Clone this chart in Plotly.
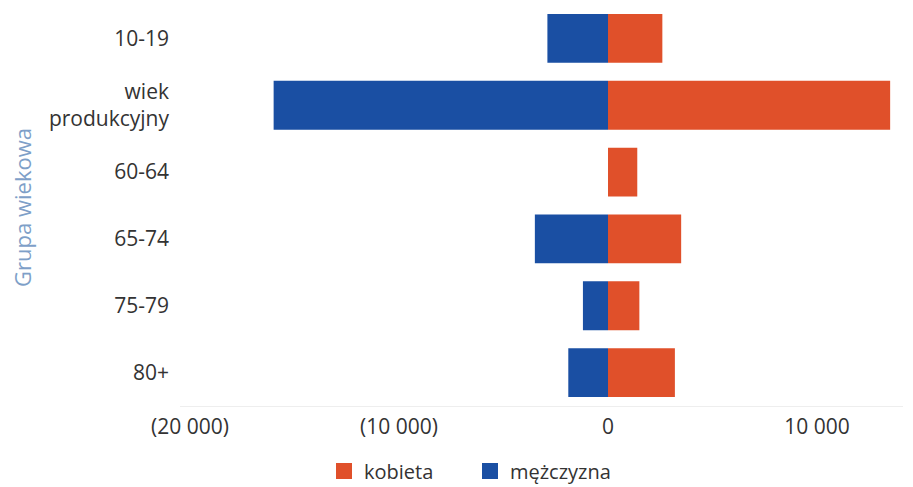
import plotly.graph_objects as go

categories = ["10-19", "wiek<br>produkcyjny", "60-64", "65-74", "75-79", "80+"]
kobieta = [2600, 13500, 1400, 3500, 1500, 3200]
mezczyzna = [2900, 16000, 0, 3500, 1200, 1900]
tick_vals = [-20000, -10000, 0, 10000]
tick_text = ["(20 000)", "(10 000)", "0", "10 000"]
series_names = ["kobieta", "mężczyzna"]

FEMALE = "#e0502a"
MALE = "#1a4fa3"

fig = go.Figure()
fig.add_trace(go.Bar(
    y=categories, x=kobieta, orientation="h", name=series_names[0],
    marker=dict(color=FEMALE, line=dict(width=0)), showlegend=False,
))
fig.add_trace(go.Bar(
    y=categories, x=[-v for v in mezczyzna], orientation="h", name=series_names[1],
    marker=dict(color=MALE, line=dict(width=0)), showlegend=False,
))
# legend entries with larger square swatches
for nm, col in zip(series_names, [FEMALE, MALE]):
    fig.add_trace(go.Scatter(
        x=[None], y=[None], mode="markers", name=nm,
        marker=dict(symbol="square", size=18, color=col),
    ))

W, H = 913, 487
ML, MR, MT, MB = 180, 10, 5, 81
PW = W - ML - MR
PH = H - MT - MB

fig.update_layout(
    width=W, height=H,
    barmode="relative",
    bargap=0.27,
    paper_bgcolor="white", plot_bgcolor="white",
    margin=dict(l=ML, r=MR, t=MT, b=MB, autoexpand=False),
    font=dict(family="Open Sans, Noto Sans, sans-serif", size=20, color="#333333"),
    showlegend=True,
    legend=dict(orientation="h", x=(324 - ML) / PW, xanchor="left",
                yref="container", y=1 - 471 / H, yanchor="middle",
                itemsizing="trace", bgcolor="rgba(0,0,0,0)",
                traceorder="normal", font=dict(size=20, color="#333333"),
                entrywidth=101, entrywidthmode="pixels"),
    xaxis=dict(
        range=[-20480, 14115],
        automargin=False,
        tickvals=tick_vals, ticktext=tick_text,
        showgrid=False, zeroline=False,
        showline=True, linecolor="#eeeeee", linewidth=1,
        ticks="outside", ticklen=2, tickcolor="rgba(0,0,0,0)",
        tickfont=dict(size=21, color="#333333"),
    ),
    yaxis=dict(
        autorange="reversed",
        automargin=False,
        showgrid=False, zeroline=False, showline=False,
        tickfont=dict(size=21, color="#333333"),
        ticklabelstandoff=10,
    ),
    annotations=[dict(
        text="Grupa wiekowa", textangle=-90,
        xref="paper", yref="paper", x=-(ML - 22) / PW, y=0.494,
        xanchor="center", yanchor="middle", showarrow=False,
        font=dict(size=22, color="#7e9fc8"),
    )],
)

fig.write_html("out.html", config={"displayModeBar": False},
               post_script="document.body.style.margin='0';")
